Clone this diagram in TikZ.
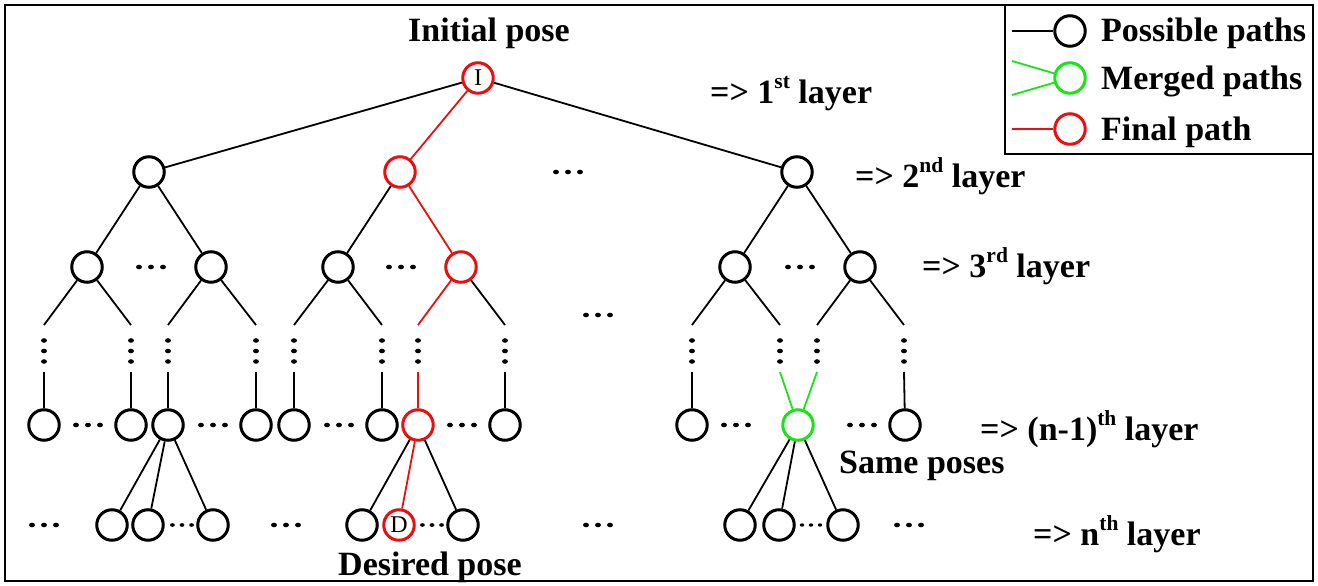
\documentclass[tikz,border=0pt]{standalone}
\usepackage{fontspec}
\setmainfont{Liberation Serif}
\usetikzlibrary{shapes.geometric}
\definecolor{pathred}{RGB}{232,16,16}
\definecolor{pathgreen}{RGB}{24,228,24}
\newcommand\mysup[1]{\raisebox{0.42em}{\fontsize{21.5}{21.5}\selectfont #1}}
\begin{document}
\begin{tikzpicture}[x=1pt,y=-1pt,
  pose/.style={ellipse,draw,line width=3pt,minimum width=30.5pt,minimum height=30.5pt,inner sep=0pt,font=\fontsize{24}{24}\selectfont},
  rpose/.style={pose,draw=pathred},
  gpose/.style={pose,draw=pathgreen},
  edge/.style={line width=1.8pt},
  redge/.style={edge,draw=pathred},
  gedge/.style={edge,draw=pathgreen},
  lbl/.style={font=\fontsize{34}{38}\selectfont\bfseries,inner sep=0pt,anchor=base west},
  hdots/.pic={\foreach \i in {-12,0,12}{\fill (\i,0) ellipse (3 and 2.3);}},
  vdots/.pic={\foreach \i in {-10.5,0,10.5}{\fill (0,\i) ellipse (3 and 2.3);}}
]
\useasboundingbox (0,0) rectangle (1318,586);
\draw[line width=2pt] (5,5) rectangle (1313,581);
% legend
\draw[line width=2pt] (1005,5) rectangle (1313,154);
\node[pose] (lc1) at (1070,31) {};
\node[gpose] (lc2) at (1070,78) {};
\node[rpose] (lc3) at (1070,129) {};
\coordinate (lp1) at (1012,31);
\coordinate (lg1) at (1012,61);
\coordinate (lg2) at (1012,95);
\coordinate (lr1) at (1012,129);
\draw[edge] (lp1) -- (lc1);
\draw[gedge] (lg1) -- (lc2);
\draw[gedge] (lg2) -- (lc2);
\draw[redge] (lr1) -- (lc3);
\node[lbl] (lt1) at (1101,42) {Possible paths};
\node[lbl] (lt2) at (1101,90) {Merged paths};
\node[lbl] (lt3) at (1101,140) {Final path};
% labels
\node[lbl] (tinit) at (408,42) {Initial pose};
\node[lbl] (tl1) at (710,103) {=> 1\mysup{st} layer};
\node[lbl] (tl2) at (855,187) {=> 2\mysup{nd} layer};
\node[lbl] (tl3) at (922,277) {=> 3\mysup{rd} layer};
\node[lbl] (tln1) at (980,440) {=> (n-1)\mysup{th} layer};
\node[lbl] (tsame) at (839,473) {Same poses};
\node[lbl] (tln) at (1033,545) {=> n\mysup{th} layer};
\node[lbl] (tdes) at (338,575) {Desired pose};
% layer 1
\node[rpose] (r) at (478,78) {I};
% layer 2
\node[pose] (a1) at (149,172) {};
\node[rpose] (a2) at (400,172) {};
\node[pose] (a3) at (797,172) {};
\draw[edge] (r) -- (a1);
\draw[redge] (r) -- (a2);
\draw[edge] (r) -- (a3);
% layer 3
\node[pose] (b1) at (87,267) {};
\node[pose] (b2) at (211,267) {};
\node[pose] (b3) at (338,267) {};
\node[rpose] (b4) at (461,267) {};
\node[pose] (b5) at (735,267) {};
\node[pose] (b6) at (860,267) {};
\draw[edge] (a1) -- (b1);
\draw[edge] (a1) -- (b2);
\draw[edge] (a2) -- (b3);
\draw[redge] (a2) -- (b4);
\draw[edge] (a3) -- (b5);
\draw[edge] (a3) -- (b6);
% column ends
\foreach \n/\x in {1/44,2/131,3/168,4/256,5/294,6/382,7/418,8/505,9/692,10/780,11/817,12/904}{
  \coordinate (t\n) at (\x,325);
  \coordinate (s\n) at (\x,372);
  \pic at (\x,351) {vdots};
}
\draw[edge] (b1) -- (t1);
\draw[edge] (b1) -- (t2);
\draw[edge] (b2) -- (t3);
\draw[edge] (b2) -- (t4);
\draw[edge] (b3) -- (t5);
\draw[edge] (b3) -- (t6);
\draw[redge] (b4) -- (t7);
\draw[edge] (b4) -- (t8);
\draw[edge] (b5) -- (t9);
\draw[edge] (b5) -- (t10);
\draw[edge] (b6) -- (t11);
\draw[edge] (b6) -- (t12);
% layer n-1
\node[pose] (c1) at (44,425) {};
\node[pose] (c2) at (131,425) {};
\node[pose] (c3) at (168,425) {};
\node[pose] (c4) at (256,425) {};
\node[pose] (c5) at (294,425) {};
\node[pose] (c6) at (382,425) {};
\node[rpose] (c7) at (418,425) {};
\node[pose] (c8) at (505,425) {};
\node[pose] (c9) at (692,425) {};
\node[gpose] (c10) at (798,425) {};
\node[pose] (c11) at (905,425) {};
\foreach \i in {1,...,6,8,9}{\draw[edge] (s\i) -- (c\i);}
\draw[redge] (s7) -- (c7);
\draw[gedge] (s10) -- (c10);
\draw[gedge] (s11) -- (c10);
\draw[edge] (s12) -- (c11);
% layer n
\node[pose] (d1) at (112,525) {};
\node[pose] (d2) at (148,525) {};
\node[pose] (d3) at (213,525) {};
\node[pose] (d4) at (362,525) {};
\node[rpose] (d5) at (399,525) {D};
\node[pose] (d6) at (463,525) {};
\node[pose] (d7) at (740,525) {};
\node[pose] (d8) at (779,525) {};
\node[pose] (d9) at (843,525) {};
\draw[edge] (c3) -- (d1);
\draw[edge] (c3) -- (d2);
\draw[edge] (c3) -- (d3);
\draw[edge] (c7) -- (d4);
\draw[redge] (c7) -- (d5);
\draw[edge] (c7) -- (d6);
\draw[edge] (c10) -- (d7);
\draw[edge] (c10) -- (d8);
\draw[edge] (c10) -- (d9);
% horizontal dots
\foreach \x/\y in {568/172, 151/267, 401/267, 800/267, 598/315,
  88/425, 213/425, 339/425, 462/425, 736/425, 862/425,
  44/525, 286/525, 598/525, 909/525}{
  \pic at (\x,\y) {hdots};
}
\pic[scale=0.8] at (182,525) {hdots};
\pic[scale=0.8] at (432,525) {hdots};
\pic[scale=0.75] at (811,525) {hdots};
\end{tikzpicture}
\end{document}
